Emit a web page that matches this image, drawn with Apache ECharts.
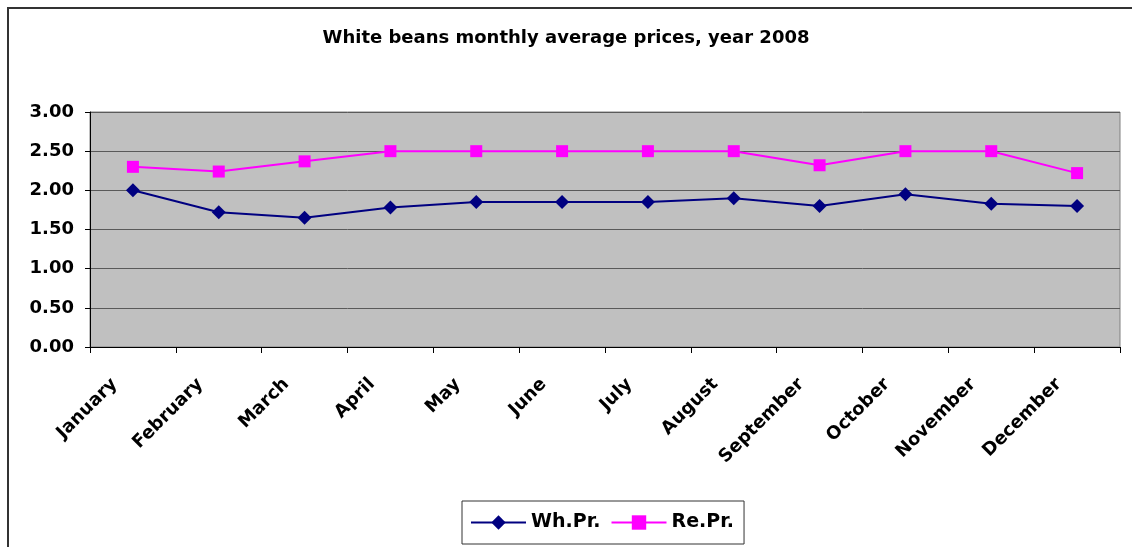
<!DOCTYPE html>
<html>
<head>
<meta charset="utf-8">
<script src="https://cdn.jsdelivr.net/npm/echarts@6/dist/echarts.min.js"></script>
<style>
html,body{margin:0;padding:0;background:#fff;overflow:hidden;}
#frame{position:absolute;left:7px;top:7px;width:1200px;height:600px;border:2px solid #333;box-sizing:border-box;}
#chart{position:absolute;left:0;top:0;width:1132px;height:547px;}
</style>
</head>
<body>
<div id="frame"></div>
<div id="chart"></div>
<script>
const months = ["January","February","March","April","May","June","July","August","September","October","November","December"];
const whPr = [2.00,1.72,1.65,1.78,1.85,1.85,1.85,1.90,1.80,1.95,1.83,1.80];
const rePr = [2.30,2.24,2.37,2.50,2.50,2.50,2.50,2.50,2.32,2.50,2.50,2.22];
const yTicks = {min:0, max:3, interval:0.5};

const chart = echarts.init(document.getElementById('chart'), null, {renderer:'canvas'});
const font = '"DejaVu Sans", Arial, sans-serif';
chart.setOption({
  animation:false,
  textStyle:{fontFamily:font},
  title:{
    text:'White beans monthly average prices, year 2008',
    left:'center', top:24,
    textStyle:{fontSize:18,fontWeight:'bold',color:'#000',fontFamily:font}
  },
  grid:{left:90,right:12,top:112,bottom:200,show:true,backgroundColor:'#C0C0C0',borderColor:'#808080',borderWidth:1},
  legend:{
    left:462, top:501,
    padding:[12,10,12,8],
    borderColor:'#333',borderWidth:1,
    itemWidth:55,itemHeight:18,itemGap:10,
    textStyle:{fontSize:19,fontWeight:'bold',color:'#000',fontFamily:font},
    data:['Wh.Pr.','Re.Pr.']
  },
  xAxis:{
    type:'category',
    data:months,
    boundaryGap:true,
    axisLine:{lineStyle:{color:'#000',width:1}},
    axisTick:{show:true,length:6,alignWithLabel:false,lineStyle:{color:'#000'}},
    axisLabel:{rotate:45,margin:16,padding:[0,26,0,0],fontSize:18,fontWeight:'bold',color:'#000',fontFamily:font,interval:0}
  },
  yAxis:{
    type:'value',
    min:yTicks.min,max:yTicks.max,interval:yTicks.interval,
    axisLine:{show:true,lineStyle:{color:'#000'}},
    axisTick:{show:true,length:5,lineStyle:{color:'#000'}},
    splitLine:{show:true,lineStyle:{color:'#5a5a5a',width:1}},
    axisLabel:{formatter:v=>v.toFixed(2),fontSize:18,fontWeight:'bold',color:'#000',margin:16,fontFamily:font}
  },
  series:[
    {name:'Wh.Pr.',type:'line',data:whPr,symbol:'diamond',symbolSize:14,
     itemStyle:{color:'#000080'},lineStyle:{color:'#000080',width:2}},
    {name:'Re.Pr.',type:'line',data:rePr,symbol:'rect',symbolSize:12,
     itemStyle:{color:'#FF00FF'},lineStyle:{color:'#FF00FF',width:2}}
  ]
});
</script>
</body>
</html>
